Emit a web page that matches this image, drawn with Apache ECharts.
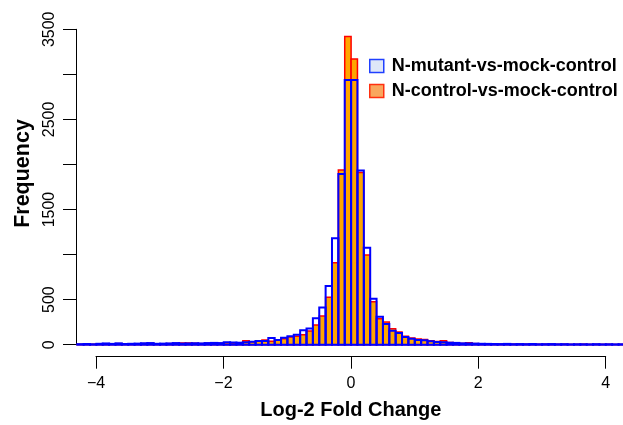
<!DOCTYPE html>
<html><head><meta charset="utf-8">
<script src="https://cdn.jsdelivr.net/npm/echarts@6/dist/echarts.min.js"></script>
<style>html,body{margin:0;padding:0;background:#fff}#c{width:623px;height:425px}</style>
</head><body><div id="c"></div>
<script>
// Histogram bins: left edge of first bin and bin width (log2 fold change)
const binStart = -4.3;
const binWidth = 0.1;
// Frequencies per bin, from -4.3 upward (86 bins)
const mutantCounts = [
  6, 8, 5, 10, 14, 9, 15, 8, 10, 12,          // -4.3 .. -3.4
  16, 18, 10, 12, 14, 18, 12, 14, 16, 14,     // -3.3 .. -2.4
  18, 20, 18, 28, 25, 22, 26, 33, 41, 40,     // -2.3 .. -1.4
  74, 52, 78, 93, 111, 159, 181, 293, 414, 651, // -1.3 .. -0.4
  1181, 1894, 2938, 2938, 1932, 1077, 511, 311, 230, 155, // -0.3 .. 0.6
  130, 85, 67, 52, 48, 38, 30, 28, 22, 20,    // 0.7 .. 1.6
  15, 14, 12, 10, 9, 8, 7, 9, 6, 7,           // 1.7 .. 2.6
  6, 8, 5, 6, 7, 5, 6, 4, 5, 5,               // 2.7 .. 3.6
  4, 6, 4, 5, 4, 5                            // 3.7 .. 4.2
];
const controlCounts = [
  4, 6, 5, 8, 10, 7, 12, 9, 8, 10,
  12, 14, 9, 10, 12, 14, 18, 20, 17, 12,
  15, 20, 14, 22, 20, 18, 45, 33, 45, 52,
  37, 48, 67, 85, 95, 110, 152, 219, 318, 526,
  910, 1939, 3419, 3171, 1910, 996, 476, 289, 252, 178,
  141, 93, 74, 63, 58, 45, 35, 45, 25, 18,
  14, 22, 12, 9, 8, 10, 7, 9, 6, 8,
  6, 7, 5, 6, 8, 5, 6, 4, 5, 6,
  4, 5, 4, 5, 3, 4
];
const seriesNames = ['N-mutant-vs-mock-control', 'N-control-vs-mock-control'];
const yTickLabels = [0, 500, 1500, 2500, 3500];
const xTicks = [-4, -2, 0, 2, 4];

function toBins(counts) {
  return counts.map((v, i) => {
    const x0 = +(binStart + i * binWidth).toFixed(2);
    return [x0, +(x0 + binWidth).toFixed(2), v];
  });
}

function rectRenderer(style) {
  return function (params, api) {
    const p0 = api.coord([api.value(0), api.value(2)]);
    const p1 = api.coord([api.value(1), 0]);
    return {
      type: 'rect',
      shape: { x: p0[0], y: p0[1], width: p1[0] - p0[0], height: p1[1] - p0[1] },
      style: style
    };
  };
}

const chart = echarts.init(document.getElementById('c'), null, { renderer: 'canvas' });
const font = 'Liberation Sans, Arial, Helvetica, sans-serif';

chart.setOption({
  animation: false,
  backgroundColor: '#fff',
  textStyle: { fontFamily: font },
  grid: [
    { left: 76, right: 0, top: 29.3, bottom: 80.3 },
    { left: 96, right: 17.3, top: 355.7, height: 1 }
  ],
  legend: {
    orient: 'vertical',
    left: 364, top: 52,
    itemWidth: 14, itemHeight: 13, itemGap: 7,
    icon: 'rect',
    selectedMode: false,
    textStyle: { fontFamily: font, fontSize: 18, fontWeight: 'bold', color: '#000', padding: [0, 0, 0, 3] },
    data: [
      { name: seriesNames[0], itemStyle: { color: '#dfe7f8', borderColor: '#2040ff', borderWidth: 1.5 } },
      { name: seriesNames[1], itemStyle: { color: '#f9a75e', borderColor: '#ff3010', borderWidth: 1.5 } }
    ]
  },
  xAxis: [
    { gridIndex: 0, type: 'value', min: -4.32, max: 4.27, show: false },
    {
      gridIndex: 1, type: 'value', min: -4, max: 4, interval: 2, position: 'bottom',
      axisLine: { show: true, onZero: false, lineStyle: { color: '#000', width: 1 } },
      axisTick: { show: true, length: 12, lineStyle: { color: '#000', width: 1 } },
      axisLabel: { color: '#000', fontSize: 16, fontFamily: font, margin: 19,
        formatter: v => (xTicks.includes(v) ? String(v).replace('-', '\u2212') : '') },
      splitLine: { show: false },
      name: 'Log-2 Fold Change', nameLocation: 'middle', nameGap: 44,
      nameTextStyle: { color: '#000', fontSize: 20, fontWeight: 'bold', fontFamily: font }
    }
  ],
  yAxis: [
    {
      gridIndex: 0, type: 'value', min: 0, max: 3500, interval: 500,
      axisLine: { show: true, onZero: false, lineStyle: { color: '#000', width: 1 } },
      axisTick: { show: true, length: 13, lineStyle: { color: '#000', width: 1 } },
      axisLabel: { color: '#000', fontSize: 16, fontFamily: font, rotate: 90, margin: 18,
        formatter: v => (yTickLabels.includes(v) ? String(v) : '') },
      splitLine: { show: false },
      name: 'Frequency', nameLocation: 'middle', nameGap: 39, nameRotate: 90,
      nameTextStyle: { color: '#000', fontSize: 21.5, fontWeight: 'bold', fontFamily: font, padding: [0, 0, 0, 27] }
    },
    { gridIndex: 1, type: 'value', show: false }
  ],
  series: [
    {
      name: seriesNames[1], type: 'custom', xAxisIndex: 0, yAxisIndex: 0, clip: false,
      itemStyle: { color: '#f9a75e', borderColor: '#ff3010' },
      encode: { x: [0, 1], y: 2 },
      renderItem: rectRenderer({ fill: '#ffa500', stroke: '#ff0000', lineWidth: 1.5 }),
      data: toBins(controlCounts), z: 2
    },
    {
      name: seriesNames[0], type: 'custom', xAxisIndex: 0, yAxisIndex: 0, clip: false,
      itemStyle: { color: '#dfe7f8', borderColor: '#2040ff' },
      encode: { x: [0, 1], y: 2 },
      renderItem: rectRenderer({ fill: 'none', stroke: '#0000ff', lineWidth: 2 }),
      data: toBins(mutantCounts), z: 3
    }
  ]
});
</script>
</body></html>
